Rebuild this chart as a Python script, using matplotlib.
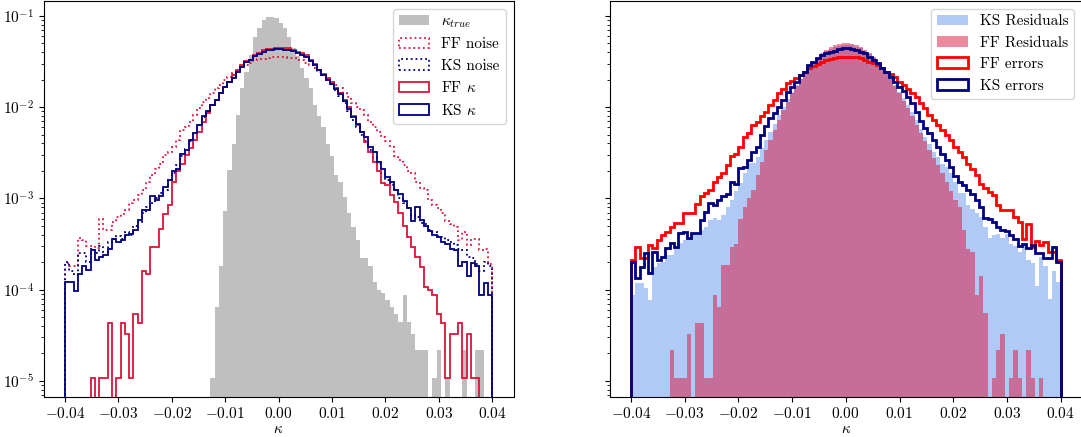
import numpy as np
import matplotlib
matplotlib.use('Agg')
import matplotlib.pyplot as plt

plt.rcParams['font.family'] = 'serif'
plt.rcParams['font.serif'] = ['cmr10']
plt.rcParams['mathtext.fontset'] = 'cm'
plt.rcParams['axes.formatter.use_mathtext'] = True
plt.rcParams['font.size'] = 11

# 100 bins between -0.04 and 0.04, values are fractions of pixels per bin
edges = np.linspace(-0.04, 0.04, 101)
centers = 0.5 * (edges[:-1] + edges[1:])
xticks = [-0.04, -0.03, -0.02, -0.01, 0.0, 0.01, 0.02, 0.03, 0.04]

# ---- left panel ----
k_true = [0, 0, 0, 0, 0, 0, 0, 0, 0, 0,
          0, 0, 0, 0, 0, 0, 0, 0, 0, 0,
          0, 0, 0, 0, 0, 0, 0, 0, 0, 0,
          0, 0, 0, 0, 1.09e-5, 6.5e-5, 1.8e-4, 7.3e-4, 2.05e-3, 3.9e-3,
          8.2e-3, 0.0161, 0.0244, 0.0372, 0.059, 0.073, 0.090, 0.096, 0.098, 0.094,
          0.083, 0.073, 0.059, 0.044, 0.036, 0.0266, 0.0207, 0.0161, 0.0105, 7.9e-3,
          6.1e-3, 3.9e-3, 2.9e-3, 1.8e-3, 1.5e-3, 1.04e-3, 6.9e-4, 4.9e-4, 3.5e-4, 2.2e-4,
          2.2e-4, 1.8e-4, 1.2e-4, 9.9e-5, 9.1e-5, 7.7e-5, 6.5e-5, 5.4e-5, 4.4e-5, 8.7e-5,
          4.4e-5, 3.3e-5, 2.2e-5, 2.2e-5, 2.2e-5, 0, 1.09e-5, 2.18e-5, 0, 1.09e-5,
          0, 0, 0, 2.18e-5, 0, 0, 2.18e-5, 2.18e-5, 0, 0]

ff_noise = [1.95e-4, 1.8e-4, 1.8e-4, 3.7e-4, 3.5e-4, 3.0e-4, 3.0e-4, 2.85e-4, 5.9e-4, 4.5e-4,
            4.5e-4, 5.5e-4, 6.3e-4, 6.8e-4, 7.5e-4, 8.8e-4, 9.6e-4, 1.09e-3, 1.24e-3, 1.52e-3,
            1.79e-3, 2.1e-3, 2.4e-3, 2.95e-3, 3.25e-3, 3.7e-3, 4.35e-3, 5.6e-3, 6.1e-3, 6.9e-3,
            8.2e-3, 9.7e-3, 0.0115, 0.0125, 0.0142, 0.0161, 0.0175, 0.0198, 0.0216, 0.0235,
            0.0255, 0.0277, 0.0289, 0.0301, 0.0328, 0.0334, 0.0334, 0.0343, 0.0357, 0.0357,
            0.0357, 0.0357, 0.0343, 0.0343, 0.0328, 0.0328, 0.0301, 0.0289, 0.027, 0.0245,
            0.0225, 0.0205, 0.019, 0.0175, 0.0161, 0.0142, 0.0130, 0.0110, 0.0101, 0.0093,
            0.0082, 0.0069, 0.0061, 0.0054, 0.0047, 0.0042, 0.0037, 0.0029, 0.0026, 0.0023,
            0.0020, 0.0019, 0.0015, 0.0013, 0.00124, 9.6e-4, 8.5e-4, 7.8e-4, 6.9e-4, 5.6e-4,
            5.3e-4, 4.9e-4, 3.5e-4, 4.3e-4, 3.1e-4, 3.6e-4, 3.6e-4, 2.7e-4, 2.8e-4, 1.9e-4]

ks_noise = [2.0e-4, 1.6e-4, 1.45e-4, 2.5e-4, 2.5e-4, 2.0e-4, 2.8e-4, 2.5e-4, 3.0e-4, 2.6e-4,
            3.3e-4, 3.6e-4, 3.9e-4, 3.6e-4, 4.3e-4, 4.0e-4, 5.0e-4, 5.5e-4, 7.0e-4, 8.0e-4,
            9.0e-4, 1.0e-3, 1.15e-3, 1.25e-3, 1.6e-3, 1.9e-3, 2.3e-3, 2.9e-3, 3.5e-3, 4.2e-3,
            5.2e-3, 6.4e-3, 7.8e-3, 9.0e-3, 0.0105, 0.012, 0.0142, 0.0167, 0.019, 0.021,
            0.024, 0.0275, 0.031, 0.0325, 0.036, 0.038, 0.040, 0.042, 0.042, 0.043,
            0.043, 0.042, 0.042, 0.041, 0.039, 0.037, 0.035, 0.032, 0.029, 0.0255,
            0.0225, 0.020, 0.0178, 0.0155, 0.0132, 0.0112, 0.0090, 0.0072, 0.0060, 0.0050,
            0.0042, 0.0034, 0.0028, 0.0024, 0.0019, 0.0016, 0.0014, 0.00125, 0.0010, 9.0e-4,
            7.8e-4, 6.5e-4, 6.2e-4, 5.4e-4, 5.2e-4, 4.5e-4, 4.3e-4, 3.9e-4, 3.8e-4, 3.5e-4,
            3.3e-4, 3.1e-4, 2.8e-4, 2.7e-4, 2.3e-4, 2.2e-4, 1.9e-4, 1.6e-4, 2.0e-4, 1.8e-4]

ff_kappa = [0, 0, 0, 0, 0, 0, 1.09e-5, 0, 1.09e-5, 1.09e-5,
            4.35e-5, 0, 1.09e-5, 4.35e-5, 3.26e-5, 1.09e-5, 5.4e-5, 4.35e-5, 1.6e-4, 1.5e-4,
            2.9e-4, 2.9e-4, 4.6e-4, 6.7e-4, 8.5e-4, 1.5e-3, 2.0e-3, 2.4e-3, 3.0e-3, 3.6e-3,
            4.4e-3, 5.4e-3, 6.9e-3, 8.6e-3, 0.0105, 0.012, 0.0142, 0.0167, 0.019, 0.0225,
            0.0255, 0.0289, 0.032, 0.033, 0.037, 0.0395, 0.042, 0.043, 0.043, 0.0448,
            0.0448, 0.0448, 0.0448, 0.042, 0.040, 0.039, 0.037, 0.0328, 0.030, 0.0255,
            0.0232, 0.021, 0.019, 0.0163, 0.0142, 0.0120, 0.0100, 0.0080, 0.0064, 0.0053,
            0.0041, 0.0032, 0.0025, 0.0020, 0.00148, 0.0014, 0.00108, 9.2e-4, 6.9e-4, 5.0e-4,
            3.8e-4, 2.9e-4, 2.3e-4, 1.75e-4, 1.08e-4, 1.0e-4, 8.7e-5, 5.4e-5, 4.35e-5, 1.09e-5,
            3.26e-5, 3.26e-5, 4.35e-5, 1.09e-5, 3.26e-5, 1.09e-5, 1.09e-5, 0, 0, 0]

ks_kappa = [1.22e-4, 1.22e-4, 9.7e-5, 1.5e-4, 1.8e-4, 1.65e-4, 2.75e-4, 2.1e-4, 2.3e-4, 2.4e-4,
            2.8e-4, 3.6e-4, 3.3e-4, 3.5e-4, 4.0e-4, 4.1e-4, 4.5e-4, 5.8e-4, 7.5e-4, 7.5e-4,
            1.05e-3, 9.6e-4, 1.05e-3, 1.34e-3, 1.58e-3, 2.0e-3, 2.1e-3, 3.1e-3, 3.4e-3, 4.4e-3,
            5.2e-3, 6.3e-3, 7.9e-3, 9.0e-3, 0.0105, 0.012, 0.0142, 0.0167, 0.019, 0.021,
            0.024, 0.0275, 0.031, 0.0325, 0.036, 0.038, 0.040, 0.042, 0.042, 0.043,
            0.043, 0.042, 0.042, 0.041, 0.039, 0.037, 0.035, 0.032, 0.029, 0.0255,
            0.0225, 0.020, 0.018, 0.0158, 0.0138, 0.0118, 0.0095, 0.0077, 0.0066, 0.0054,
            0.0047, 0.0037, 0.0032, 0.0025, 0.0021, 0.0017, 0.0015, 0.00125, 0.00112, 9.4e-4,
            7.8e-4, 5.7e-4, 8.1e-4, 5.8e-4, 5.0e-4, 4.4e-4, 4.0e-4, 3.8e-4, 3.3e-4, 3.2e-4,
            2.8e-4, 2.7e-4, 1.8e-4, 2.0e-4, 1.4e-4, 1.95e-4, 1.8e-4, 8.8e-5, 1.17e-4, 8.8e-5]

# ---- right panel ----
ks_resid = [8.75e-5, 1.19e-4, 1.19e-4, 1.04e-4, 7.7e-5, 1.79e-4, 1.95e-4, 2.03e-4, 2.4e-4, 2.4e-4,
            2.84e-4, 3.22e-4, 3.5e-4, 3.66e-4, 4.14e-4, 3.97e-4, 4.5e-4, 4.9e-4, 5.8e-4, 6.05e-4,
            5.8e-4, 6.58e-4, 8.1e-4, 9.6e-4, 1.19e-3, 1.46e-3, 1.88e-3, 2.42e-3, 2.42e-3, 2.86e-3,
            3.6e-3, 4.4e-3, 5.3e-3, 6.6e-3, 8.2e-3, 0.0101, 0.0122, 0.0148, 0.0176, 0.0205,
            0.024, 0.0275, 0.031, 0.0345, 0.038, 0.041, 0.0435, 0.0455, 0.047, 0.0478,
            0.048, 0.0475, 0.046, 0.044, 0.0415, 0.038, 0.0345, 0.031, 0.0275, 0.024,
            0.0205, 0.0175, 0.0148, 0.0125, 0.0105, 0.0088, 0.0072, 0.0058, 0.0047, 0.0039,
            0.0032, 0.00285, 0.0024, 0.0022, 0.0019, 0.0015, 0.00114, 0.00114, 8.5e-4, 7.6e-4,
            6.9e-4, 6.3e-4, 4.9e-4, 3.7e-4, 4.0e-4, 4.1e-4, 3.7e-4, 4.1e-4, 3.2e-4, 3.0e-4,
            2.6e-4, 3.0e-4, 2.1e-4, 1.95e-4, 1.1e-4, 2.3e-4, 1.8e-4, 8.0e-5, 1.6e-4, 1.2e-4]

ff_resid = [0, 0, 0, 0, 0, 0, 0, 0, 0, 2.18e-5,
            1.09e-5, 1.09e-5, 1.09e-5, 3.26e-5, 0, 4.35e-5, 4.35e-5, 1.09e-5, 1.09e-5, 8.7e-5,
            6.5e-5, 1.86e-4, 1.86e-4, 2.96e-4, 3.2e-4, 5.9e-4, 8.1e-4, 1.0e-3, 1.24e-3, 1.79e-3,
            2.5e-3, 3.4e-3, 4.4e-3, 5.6e-3, 7.2e-3, 9.2e-3, 0.0115, 0.0142, 0.0172, 0.0205,
            0.024, 0.0278, 0.0315, 0.0352, 0.039, 0.0425, 0.0455, 0.048, 0.0495, 0.0505,
            0.0505, 0.0495, 0.048, 0.0455, 0.0425, 0.039, 0.0352, 0.0315, 0.0278, 0.024,
            0.0203, 0.017, 0.0142, 0.0118, 0.0097, 0.0079, 0.0064, 0.0052, 0.0042, 0.0034,
            0.0028, 0.0023, 0.0019, 0.0015, 0.0012, 9.5e-4, 8.0e-4, 4.5e-4, 2.8e-4, 2.6e-4,
            8.7e-5, 1.4e-4, 5.5e-5, 0, 1.09e-5, 2.18e-5, 3.26e-5, 0, 1.09e-5, 2.18e-5,
            1.09e-5, 0, 2.18e-5, 1.09e-5, 0, 1.09e-5, 0, 0, 0, 0]

ff_err = [2.11e-4, 2.96e-4, 2.21e-4, 2.21e-4, 3.09e-4, 2.84e-4, 3.5e-4, 3.97e-4, 4.32e-4, 4.9e-4,
          5.42e-4, 5.42e-4, 6.85e-4, 7.0e-4, 6.85e-4, 8.7e-4, 1.05e-3, 1.14e-3, 1.24e-3, 1.52e-3,
          1.73e-3, 1.91e-3, 2.32e-3, 2.91e-3, 3.06e-3, 3.69e-3, 4.74e-3, 5.16e-3, 6.37e-3, 6.92e-3,
          8.0e-3, 8.9e-3, 0.0105, 0.012, 0.0142, 0.0157, 0.0182, 0.0193, 0.0207, 0.0225,
          0.0244, 0.0266, 0.0282, 0.0296, 0.0315, 0.0328, 0.0333, 0.0342, 0.0351, 0.0351,
          0.0351, 0.0351, 0.0351, 0.0342, 0.0328, 0.0315, 0.0305, 0.029, 0.0266, 0.0244,
          0.0231, 0.0214, 0.0189, 0.0174, 0.0157, 0.0142, 0.0128, 0.011, 9.7e-3, 8.2e-3,
          7.2e-3, 6.4e-3, 5.6e-3, 4.9e-3, 4.4e-3, 3.7e-3, 3.25e-3, 2.86e-3, 2.4e-3, 2.1e-3,
          1.8e-3, 1.45e-3, 1.3e-3, 1.17e-3, 1.1e-3, 8.5e-4, 7.5e-4, 7.5e-4, 7.4e-4, 6.2e-4,
          5.5e-4, 3.6e-4, 5.2e-4, 2.9e-4, 3.4e-4, 3.1e-4, 3.3e-4, 2.6e-4, 2.6e-4, 2.1e-4]

ks_err = [2.03e-4, 1.33e-4, 1.79e-4, 2.5e-4, 1.51e-4, 2.61e-4, 2.11e-4, 2.3e-4, 2.84e-4, 3.27e-4,
          2.96e-4, 4.14e-4, 4.32e-4, 3.66e-4, 4.14e-4, 4.14e-4, 5.8e-4, 7.16e-4, 8.8e-4, 8.5e-4,
          9.6e-4, 1.05e-3, 1.12e-3, 1.52e-3, 1.44e-3, 2.13e-3, 2.23e-3, 2.64e-3, 3.25e-3, 3.69e-3,
          5.0e-3, 6.2e-3, 7.5e-3, 8.6e-3, 0.0101, 0.012, 0.0148, 0.0167, 0.019, 0.0225,
          0.0244, 0.029, 0.0315, 0.0342, 0.0372, 0.0388, 0.0405, 0.0415, 0.043, 0.044,
          0.044, 0.043, 0.0422, 0.0405, 0.0388, 0.0356, 0.0328, 0.0301, 0.0266, 0.0244,
          0.0215, 0.019, 0.0167, 0.0150, 0.0130, 0.0110, 8.9e-3, 7.0e-3, 5.9e-3, 5.2e-3,
          4.4e-3, 3.7e-3, 3.1e-3, 2.6e-3, 2.2e-3, 1.75e-3, 1.52e-3, 1.40e-3, 1.24e-3, 1.12e-3,
          9.6e-4, 8.1e-4, 6.1e-4, 5.9e-4, 5.5e-4, 4.9e-4, 4.5e-4, 4.4e-4, 4.0e-4, 3.6e-4,
          3.0e-4, 3.2e-4, 2.85e-4, 3.1e-4, 2.55e-4, 2.5e-4, 2.2e-4, 2.2e-4, 2.9e-4, 2.0e-4]

fig = plt.figure(figsize=(10.81, 4.37), dpi=100)
W, H = 1081., 437.
ax1 = fig.add_axes([43.6/W, 40.5/H, 470/W, 395.5/H])
ax2 = fig.add_axes([609.5/W, 40.5/H, 472.6/W, 395.5/H], sharey=ax1)

ax1.hist(centers, bins=edges, weights=k_true, color='grey', alpha=0.5, label=r'$\kappa_{true}$')
ax1.hist(centers, bins=edges, weights=ff_noise, histtype='step', color='crimson', ls=':', lw=1.3, label='FF noise')
ax1.hist(centers, bins=edges, weights=ks_noise, histtype='step', color='navy', ls=':', lw=1.3, label='KS noise')
ax1.hist(centers, bins=edges, weights=ff_kappa, histtype='step', color='crimson', lw=1.3, label=r'FF $\kappa$')
ax1.hist(centers, bins=edges, weights=ks_kappa, histtype='step', color='navy', lw=1.3, label=r'KS $\kappa$')

ax2.hist(centers, bins=edges, weights=ks_resid, color='cornflowerblue', alpha=0.5, label='KS Residuals')
ax2.hist(centers, bins=edges, weights=ff_resid, color='crimson', alpha=0.5, label='FF Residuals')
ax2.hist(centers, bins=edges, weights=ff_err, histtype='step', color='red', lw=2, label='FF errors')
ax2.hist(centers, bins=edges, weights=ks_err, histtype='step', color='navy', lw=2, label='KS errors')

for ax in (ax1, ax2):
    ax.set_yscale('log')
    ax.set_xlim(-0.044, 0.044)
    ax.set_xticks(xticks)
    ax.set_xlabel(r'$\kappa$', labelpad=1)
    ax.legend(loc='upper right', fontsize=11)
ax1.set_ylim(10**-5.17, 10**-0.838)
ax2.tick_params(labelleft=False)

fig.savefig('out.png', dpi=100)
